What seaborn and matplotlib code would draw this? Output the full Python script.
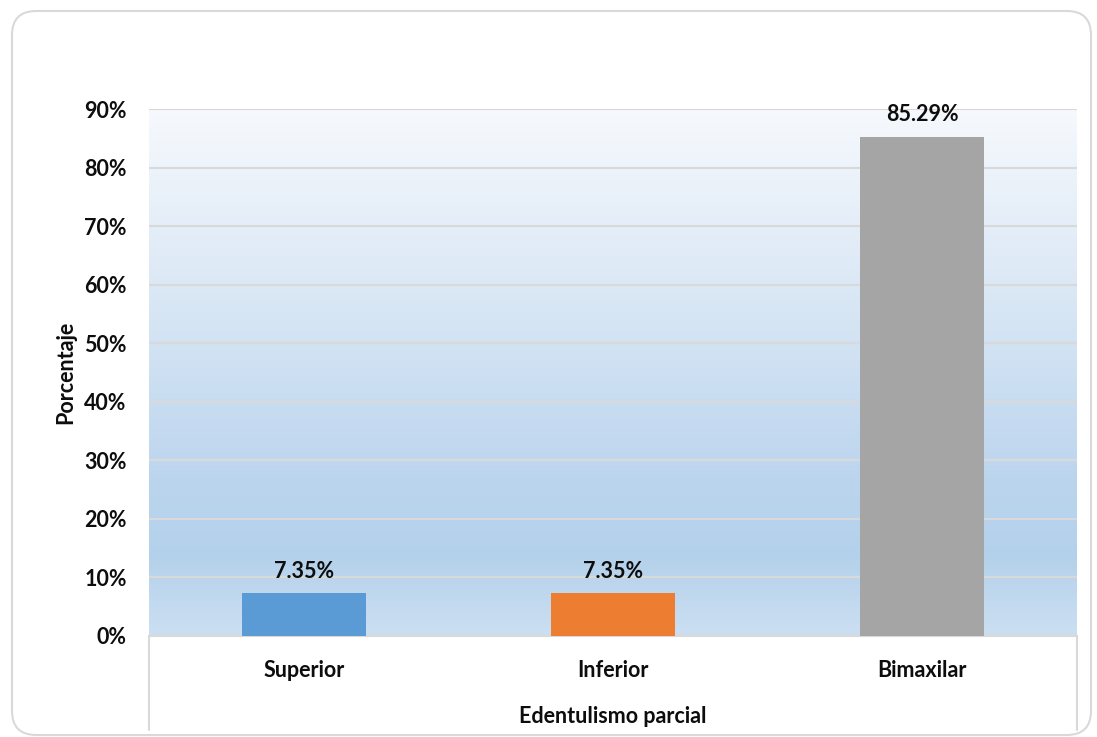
import numpy as np
import pandas as pd
import matplotlib
matplotlib.use('Agg')
import matplotlib.pyplot as plt
import seaborn as sns
from matplotlib.colors import LinearSegmentedColormap
from matplotlib.patches import FancyBboxPatch
from matplotlib.lines import Line2D

categories = ['Superior', 'Inferior', 'Bimaxilar']
percentages = [7.35, 7.35, 85.29]
bar_colors = ['#5B9BD5', '#ED7D31', '#A5A5A5']
y_ticks = [0, 10, 20, 30, 40, 50, 60, 70, 80, 90]

df = pd.DataFrame({'cat': categories, 'pct': percentages})

sns.set_theme(style='white')
plt.rcParams['font.family'] = ['Lato', 'DejaVu Sans']
plt.rcParams['font.weight'] = 'bold'

fig = plt.figure(figsize=(10.97, 7.37), dpi=100)
W, H = 1097, 737
txt = '#0d0d0d'
fs = 15.5

# rounded frame round the whole chart
frame = FancyBboxPatch((12 / W, 2 / H), (1091 - 12) / W, (735 - 11) / H,
                       boxstyle='round,pad=0,rounding_size=0.022',
                       transform=fig.transFigure, fill=False,
                       edgecolor='#D9D9D9', linewidth=1.5, mutation_aspect=W / H)
fig.patches.append(frame)

ax = fig.add_axes([149 / W, 1 - 636 / H, (1077 - 149) / W, (636 - 109) / H])

# gradient plot background
cmap = LinearSegmentedColormap.from_list('bg', [
    (0.0, '#CCDFF2'), (0.15, '#B4D1EB'), (0.3, '#BCD5EE'),
    (0.6, '#D6E5F4'), (1.0, '#F6F9FD')])
grad = np.linspace(0, 1, 256).reshape(-1, 1)
ax.imshow(grad, cmap=cmap, aspect='auto', origin='lower',
          extent=(-0.5, 2.5, 0, 90), zorder=0)

sns.barplot(data=df, x='cat', y='pct', hue='cat', palette=bar_colors,
            width=0.4, saturation=1, legend=False, ax=ax, zorder=3, linewidth=0)

ax.set_xlim(-0.5, 2.5)
ax.set_ylim(0, 90)
ax.set_yticks(y_ticks)
ax.set_yticklabels([f'{t}%' for t in y_ticks])
for t in y_ticks[1:]:
    ax.axhline(t, color='#D9D9D9', linewidth=1.5, zorder=1)

for spine in ['top', 'right', 'left']:
    ax.spines[spine].set_visible(False)
ax.spines['bottom'].set_color('#D9D9D9')
ax.spines['bottom'].set_linewidth(1.5)

# outer category dividers running below the axis
for xa in (0, 1):
    ax.add_line(Line2D([xa, xa], [0, -94 / 527], transform=ax.transAxes,
                       color='#D9D9D9', linewidth=1.5, clip_on=False))

for i, v in enumerate(percentages):
    ax.annotate(f'{v:.2f}%', (i, v), xytext=(0, 8), textcoords='offset points',
                ha='center', va='bottom', fontsize=fs, fontweight='bold', color=txt)

ax.tick_params(axis='both', length=0, labelsize=fs, colors=txt)
ax.tick_params(axis='x', pad=17)
ax.tick_params(axis='y', pad=16)
ax.set_xlabel('Edentulismo parcial', fontsize=fs, fontweight='bold', color=txt, labelpad=18)
ax.set_ylabel('Porcentaje', fontsize=fs, fontweight='bold', color=txt, labelpad=6)

fig.savefig('out.png', dpi=100)
